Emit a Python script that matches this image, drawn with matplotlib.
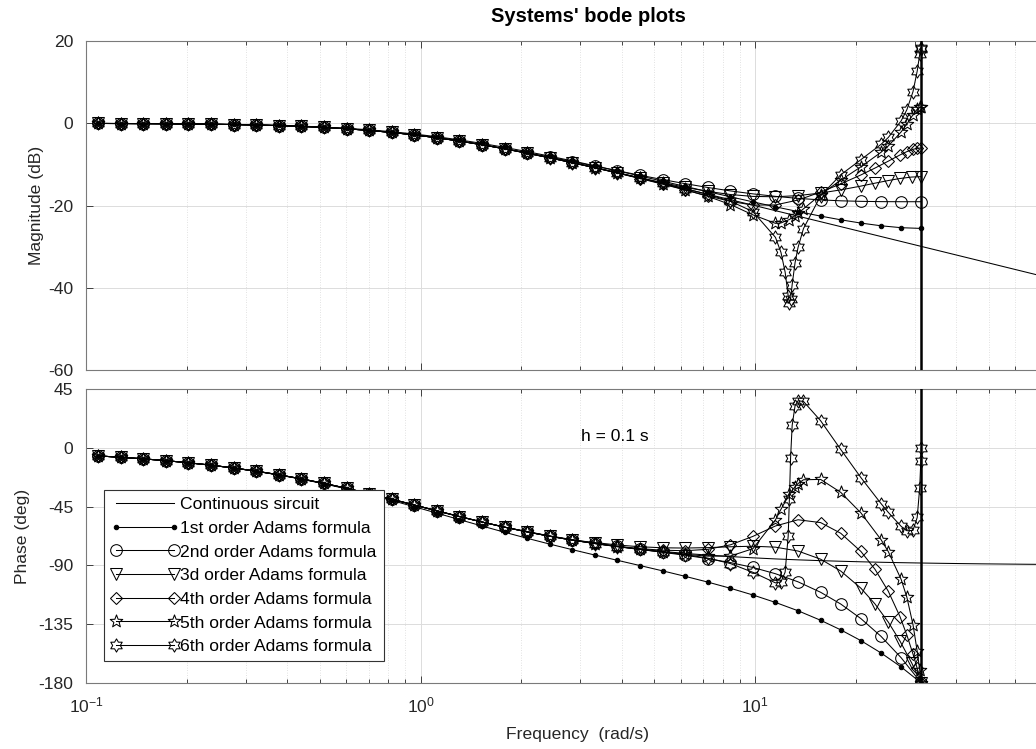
import matplotlib
matplotlib.use('Agg')
import matplotlib.pyplot as plt
from matplotlib.path import Path
from matplotlib.ticker import FixedLocator, FixedFormatter, LogLocator, NullFormatter

plt.rcParams['font.family'] = ['Liberation Sans', 'DejaVu Sans']
plt.rcParams['mathtext.fontset'] = 'custom'
plt.rcParams['mathtext.rm'] = 'Liberation Sans'
plt.rcParams['axes.unicode_minus'] = False

# ---------------- data ----------------
freq = [0.1087, 0.1269, 0.1483, 0.1732, 0.2024, 0.2364, 0.2762, 0.3227, 0.3769, 0.4403,
        0.5144, 0.6010, 0.7021, 0.8202, 0.9579, 1.1185, 1.3067, 1.5265, 1.7833, 2.0833,
        2.4338, 2.8432, 3.3215, 3.8803, 4.5330, 5.2956, 6.1864, 7.2271, 8.4429, 9.8542,
        11.512, 13.448, 15.708, 18.044, 20.728, 23.810, 27.351, 31.416]

freq_cont = freq + [36.1, 41.5, 47.6, 54.7, 62.8, 72.2, 83.0, 95.4, 100.0]
mag_cont = [-0.051, -0.069, -0.094, -0.128, -0.174, -0.236, -0.319, -0.430, -0.577, -0.770,
            -1.020, -1.339, -1.741, -2.234, -2.828, -3.524, -4.326, -5.225, -6.212, -7.276,
            -8.403, -9.583, -10.803, -12.057, -13.333, -14.630, -15.940, -17.261, -18.590, -19.917,
            -21.256, -22.597, -23.940, -25.139, -26.341, -27.542, -28.745, -29.947,
            -31.15, -32.36, -33.55, -34.76, -35.96, -37.17, -38.38, -39.59, -40.00]
ph_cont = [-6.20, -7.24, -8.44, -9.83, -11.44, -13.30, -15.44, -17.88, -20.65, -23.77,
           -27.22, -31.00, -35.07, -39.36, -43.77, -48.20, -52.58, -56.78, -60.72, -64.36,
           -67.66, -70.62, -73.24, -75.55, -77.56, -79.31, -80.82, -82.12, -83.24, -84.20,
           -85.04, -85.75, -86.36, -86.83, -87.24, -87.60, -87.91, -88.18,
           -88.41, -88.62, -88.80, -88.95, -89.09, -89.21, -89.31, -89.40, -89.43]

low_mag = mag_cont[:22]
low_ph = ph_cont[:22]

# 1st order
freq_ab1 = freq
mag_ab1 = [-0.046, -0.062, -0.085, -0.116, -0.157, -0.213, -0.288, -0.389, -0.522, -0.698,
           -0.928, -1.222, -1.594, -2.055, -2.613, -3.273, -4.039, -4.904, -5.859, -6.895,
           -7.997, -9.152, -10.349, -11.578, -12.828, -14.092, -15.362, -16.629, -17.884, -19.113,
           -20.321, -21.478, -22.577, -23.478, -24.273, -24.932, -25.395, -25.575]
ph_ab1 = [-6.21, -7.24, -8.44, -9.84, -11.46, -13.34, -15.49, -17.97, -20.79, -23.97,
          -27.53, -31.45, -35.72, -40.29, -45.07, -49.97, -54.93, -59.84, -64.62, -69.24,
          -73.69, -77.96, -82.08, -86.12, -90.13, -94.19, -98.38, -102.78, -107.51, -112.63,
          -118.34, -124.72, -131.99, -139.33, -147.57, -157.00, -167.74, -180.0]

# 2nd order
freq_ab2 = freq
mag_ab2 = mag_cont[:19] + [-7.147, -8.218, -9.319, -10.43, -11.55, -12.64, -13.70, -14.69, -15.62,
                           -16.45, -17.17, -17.78, -18.27, -18.63, -18.86, -18.99, -19.06, -19.08, -19.08]
ph_ab2 = ph_cont[:19] + [-64.1, -67.4, -70.3, -72.99, -75.43, -77.72, -79.95, -82.26, -84.82,
                         -87.84, -91.57, -96.37, -102.57, -110.56, -119.57, -130.72, -144.31, -160.69, -180.0]

# 3rd order
freq_ab3 = freq[:35] + [22.84, 25.03, 27.14, 29.41, 31.416]
mag_ab3 = low_mag + [-10.80, -12.03, -13.25, -14.45, -15.58, -16.57, -17.33, -17.79, -17.88, -17.59,
                     -16.97, -16.20, -15.28, -14.57, -13.93, -13.43, -13.08, -12.98]
ph_ab3 = low_ph + [-72.50, -74.38, -75.73, -76.52, -76.73, -76.39, -75.74, -75.32, -76.03, -79.01,
                   -85.24, -94.31, -107.43, -119.50, -133.38, -147.98, -164.69, -180.0]

# 4th order
freq_ab4 = freq[:35] + [22.84, 25.03, 27.14, 28.449, 29.671, 30.543, 31.416]
mag_ab4 = low_mag + [-10.84, -12.12, -13.44, -14.81, -16.23, -17.66, -19.00, -19.90, -19.86, -18.67,
                     -16.74, -14.74, -12.57, -10.90, -9.22, -7.70, -6.90, -6.34, -6.10, -6.02]
ph_ab4 = low_ph + [-73.20, -75.40, -77.17, -78.39, -78.76, -77.70, -74.26, -67.81, -59.82, -55.07,
                   -57.24, -65.40, -79.31, -92.98, -109.77, -129.30, -143.40, -157.86, -168.79, -180.0]

# 5th order
freq_ab5 = freq[:30] + [11.512, 11.955, 12.671, 13.177, 13.448, 13.963, 15.708, 18.044, 20.728,
                        23.810, 25.03, 27.351, 28.449, 29.671, 30.543, 31.067, 31.416]
mag_ab5 = low_mag + [-10.81, -12.07, -13.37, -14.72, -16.16, -17.78, -19.76, -22.27,
                     -24.34, -24.25, -23.41, -22.46, -21.90, -20.80, -17.37, -13.83, -10.60,
                     -7.06, -5.52, -2.10, -0.18, 2.07, 3.41, 3.87, 3.97]
ph_ab5 = low_ph + [-73.31, -75.69, -77.82, -79.78, -81.55, -82.92, -82.83, -77.22,
                   -55.14, -47.08, -35.57, -29.68, -27.38, -24.46, -24.19, -34.11, -49.80,
                   -70.27, -79.45, -100.74, -114.45, -135.34, -155.66, -169.97, -180.0]

# 6th order
freq_ab6 = freq[:30] + [11.512, 11.955, 12.305, 12.566, 12.671, 12.776, 12.915, 13.177, 13.448,
                        13.963, 15.708, 18.044, 20.728, 23.810, 25.03, 27.351, 28.449, 29.671,
                        30.543, 31.067, 31.311, 31.416]
mag_ab6 = low_mag + [-10.80, -12.05, -13.32, -14.61, -15.92, -17.30, -18.94, -21.48,
                     -27.75, -31.39, -36.19, -42.00, -43.69, -42.70, -39.24, -33.89, -30.20,
                     -25.60, -17.66, -12.53, -8.86, -5.13, -3.46, 0.59, 3.30, 7.68,
                     12.69, 16.72, 18.04, 18.22]
ph_ab6 = low_ph + [-73.26, -75.59, -77.68, -79.65, -81.74, -84.43, -88.60, -95.28,
                   -103.38, -102.63, -95.15, -67.49, -39.23, -7.57, 17.14, 32.26, 36.01,
                   35.47, 20.73, -1.29, -22.79, -42.69, -49.42, -60.12, -63.46, -63.23,
                   -53.32, -30.78, -10.31, 0.0]

labels = ['Continuous sircuit', '1st order Adams formula', '2nd order Adams formula',
          '3d order Adams formula', '4th order Adams formula', '5th order Adams formula',
          '6th order Adams formula']
nyquist = 31.416

# ---------------- styling ----------------
W, H = 1036, 749
FS = 12.6
GRAY = '#262626'
pent = Path.unit_regular_star(5, 0.42)
hexa = Path.unit_regular_star(6, 0.58)
styles = [
    dict(marker='o', ms=3.2, mfc='k', mec='k'),
    dict(marker='o', ms=8.4, mfc='none', mec='k'),
    dict(marker='v', ms=9.0, mfc='none', mec='k'),
    dict(marker='D', ms=6.0, mfc='none', mec='k'),
    dict(marker=pent, ms=9.5, mfc='none', mec='k'),
    dict(marker=hexa, ms=9.5, mfc='none', mec='k'),
]

fig = plt.figure(figsize=(W / 100, H / 100), dpi=100)


def rect(x0, y0, x1, y1):
    return [x0 / W, 1 - y1 / H, (x1 - x0) / W, (y1 - y0) / H]


ax1 = fig.add_axes(rect(86, 41, 1089.5, 370))
ax2 = fig.add_axes(rect(86, 389, 1089.5, 683))

series = [(freq_ab1, mag_ab1, ph_ab1), (freq_ab2, mag_ab2, ph_ab2), (freq_ab3, mag_ab3, ph_ab3),
          (freq_ab4, mag_ab4, ph_ab4), (freq_ab5, mag_ab5, ph_ab5), (freq_ab6, mag_ab6, ph_ab6)]

handles = []
h, = ax1.plot(freq_cont, mag_cont, color='k', lw=0.75)
ax2.plot(freq_cont, ph_cont, color='k', lw=0.75)
handles.append(h)
for (fq, mg, ph), st in zip(series, styles):
    h, = ax1.plot(fq, mg, color='k', lw=0.75, mew=0.75, **st)
    ax2.plot(fq, ph, color='k', lw=0.75, mew=0.75, **st)
    handles.append(h)

for ax in (ax1, ax2):
    ax.axvline(nyquist, color='k', lw=1.8, zorder=5)
    ax.set_xscale('log')
    ax.set_xlim(0.1, 100)
    ax.xaxis.set_major_locator(FixedLocator([0.1, 1, 10, 100]))
    ax.xaxis.set_minor_locator(LogLocator(base=10, subs=range(2, 10), numticks=20))
    ax.xaxis.set_minor_formatter(NullFormatter())
    ax.grid(True, which='major', color='#dcdcdc', lw=0.7, ls='-')
    ax.grid(True, which='minor', axis='x', color='#d8d8d8', lw=0.6, ls=(0, (1, 2)))
    ax.set_axisbelow(True)
    ax.tick_params(which='both', direction='in', top=True, right=True, colors=GRAY,
                   labelsize=FS, width=0.6, pad=9)
    ax.tick_params(which='major', length=5)
    ax.tick_params(which='minor', length=3)
    for s in ax.spines.values():
        s.set_color('#7a7a7a')
        s.set_linewidth(0.8)

ax1.set_ylim(-60, 20)
ax1.set_yticks([-60, -40, -20, 0, 20])
ax1.xaxis.set_major_formatter(NullFormatter())
ax1.set_ylabel('Magnitude (dB)', fontsize=FS, color=GRAY)
ax1.yaxis.set_label_coords(-0.042, 0.5)

ax2.set_ylim(-180, 45)
ax2.set_yticks([-180, -135, -90, -45, 0, 45])
ax2.xaxis.set_major_formatter(FixedFormatter([r'$\mathdefault{10^{-1}}$', r'$\mathdefault{10^{0}}$',
                                              r'$\mathdefault{10^{1}}$', '']))
ax2.set_ylabel('Phase (deg)', fontsize=FS, color=GRAY)
ax2.yaxis.set_label_coords(-0.056, 0.5)

ax2.text(3.02, 9, 'h = 0.1 s', fontsize=FS, ha='left', va='center', color='k')

fig.text(588 / W, 1 - 17 / H, "Systems' bode plots", ha='center', va='center',
         fontsize=14.5, fontweight='bold')
fig.text(578 / W, 1 - 734 / H, 'Frequency  (rad/s)', ha='center', va='center',
         fontsize=FS, color=GRAY)

leg = ax2.legend(handles, labels, loc='upper left',
                 bbox_to_anchor=((104 - 86) / 1003.5, (683 - 490) / 294),
                 borderaxespad=0, numpoints=2, handlelength=3.9, handletextpad=0.05,
                 borderpad=0.4, labelspacing=0.48, fontsize=FS, fancybox=False,
                 framealpha=1, edgecolor='#333333')
leg.get_frame().set_linewidth(0.8)

fig.savefig('out.png', dpi=100)
